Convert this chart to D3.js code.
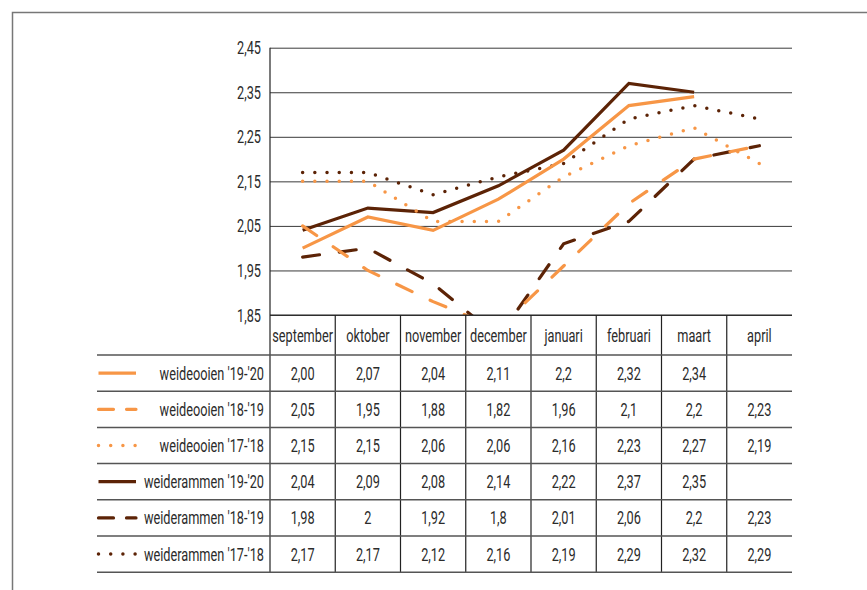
<!DOCTYPE html>
<html>
<head>
<meta charset="utf-8">
<script src="https://cdn.jsdelivr.net/npm/d3@7/dist/d3.min.js"></script>
<style>
  body { margin: 0; background: #fff; }
  text { font-family: Roboto, "DejaVu Sans", sans-serif; fill: #2b2b2b; }
</style>
</head>
<body>
<script>
const width = 867;
const height = 590;

// months (table header)
const months = ["september", "oktober", "november", "december", "januari", "februari", "maart", "april"];

// series values as printed in the data table ("" = no value)
const ooien1920 = ["2,00", "2,07", "2,04", "2,11", "2,2", "2,32", "2,34", ""];
const ooien1819 = ["2,05", "1,95", "1,88", "1,82", "1,96", "2,1", "2,2", "2,23"];
const ooien1718 = ["2,15", "2,15", "2,06", "2,06", "2,16", "2,23", "2,27", "2,19"];
const rammen1920 = ["2,04", "2,09", "2,08", "2,14", "2,22", "2,37", "2,35", ""];
const rammen1819 = ["1,98", "2", "1,92", "1,8", "2,01", "2,06", "2,2", "2,23"];
const rammen1718 = ["2,17", "2,17", "2,12", "2,16", "2,19", "2,29", "2,32", "2,29"];

const seriesNames = ["weideooien '19-'20", "weideooien '18-'19", "weideooien '17-'18",
                     "weiderammen '19-'20", "weiderammen '18-'19", "weiderammen '17-'18"];

const yTicks = [1.85, 1.95, 2.05, 2.15, 2.25, 2.35, 2.45];

const orange = "#f79646";
const brown = "#5c2306";

const series = [
  { name: seriesNames[0], vals: ooien1920, color: orange, dash: null },
  { name: seriesNames[1], vals: ooien1819, color: orange, dash: "long" },
  { name: seriesNames[2], vals: ooien1718, color: orange, dash: "dot" },
  { name: seriesNames[3], vals: rammen1920, color: brown, dash: null },
  { name: seriesNames[4], vals: rammen1819, color: brown, dash: "long" },
  { name: seriesNames[5], vals: rammen1718, color: brown, dash: "dot" }
];

const SX = 0.67; // horizontal squeeze to mimic the condensed font
const FS = 19;

function styleLine(sel, s, legend) {
  sel.attr("fill", "none")
     .attr("stroke", s.color)
     .attr("stroke-width", s.dash === "dot" ? 3.5 : 3.2);
  if (s.dash === "long") {
    sel.attr("stroke-dasharray", legend ? "15,13" : "17,20").attr("stroke-linecap", "round");
  } else if (s.dash === "dot") {
    sel.attr("stroke-dasharray", "0,12.2").attr("stroke-linecap", "round");
  }
}

function label(g, x, y, txt, anchor) {
  return g.append("text")
      .attr("transform", `translate(${x},${y}) scale(${SX},1)`)
      .attr("text-anchor", anchor)
      .attr("font-size", FS)
      .text(txt);
}

const parseVal = s => s === "" ? null : +s.replace(",", ".");

const plotLeft = 270, plotRight = 792, plotTop = 47.7, plotBottom = 315;
const headerBottom = 355;
const rowH = 36.2;
const legendLeft = 97;

const svg = d3.select("body")
    .append("svg")
    .attr("width", width)
    .attr("height", height);

// outer frame
svg.append("path")
    .attr("d", `M12.5,${height + 2}V12.5H${width + 2}`)
    .attr("fill", "none")
    .attr("stroke", "#777")
    .attr("stroke-width", 1.5);

const xScale = d3.scaleBand()
    .domain(months)
    .range([plotLeft, plotRight]);

const yScale = d3.scaleLinear()
    .domain([1.85, 2.45])
    .range([plotBottom, plotTop]);

// gridlines
const yAxis = d3.axisLeft(yScale)
    .tickValues(yTicks)
    .tickSize(-(plotRight - plotLeft))
    .tickFormat("");

const gy = svg.append("g")
    .attr("transform", `translate(${plotLeft},0)`)
    .call(yAxis);
gy.select(".domain").remove();
gy.selectAll(".tick line").attr("stroke", "#3a3a3a").attr("stroke-width", 1);

// y labels
yTicks.forEach(t => {
  label(svg, plotLeft - 9, yScale(t) + 6.5, d3.format(".2f")(t).replace(".", ","), "end");
});

const tableBottom = headerBottom + rowH * 6;

// y axis line
svg.append("line")
    .attr("x1", plotLeft).attr("x2", plotLeft)
    .attr("y1", plotTop).attr("y2", tableBottom)
    .attr("stroke", "#222").attr("stroke-width", 1.2);

// clip for lines
svg.append("clipPath").attr("id", "plotclip")
  .append("rect")
    .attr("x", plotLeft).attr("y", plotTop - 10)
    .attr("width", plotRight - plotLeft).attr("height", plotBottom - plotTop + 10);

const line = d3.line()
    .defined(d => d.v !== null)
    .x(d => xScale(d.m) + xScale.bandwidth() / 2)
    .y(d => yScale(d.v));

const plot = svg.append("g").attr("clip-path", "url(#plotclip)");
[5, 4, 3, 2, 1, 0].forEach(i => {
  const s = series[i];
  const pts = months.map((m, j) => ({ m, v: parseVal(s.vals[j]) }));
  plot.append("path")
      .datum(pts)
      .attr("d", line)
      .call(styleLine, s, false);
});

// data table: vertical separators
months.forEach((m, j) => {
  if (j === 0) return;
  svg.append("line")
      .attr("x1", xScale(m)).attr("x2", xScale(m))
      .attr("y1", plotBottom).attr("y2", tableBottom)
      .attr("stroke", "#222").attr("stroke-width", 1.2);
});

// horizontal rules
svg.append("line")
    .attr("x1", plotLeft).attr("x2", plotRight)
    .attr("y1", plotBottom).attr("y2", plotBottom)
    .attr("stroke", "#222").attr("stroke-width", 1.2);
d3.range(7).forEach(r => {
  const y = headerBottom + r * rowH;
  svg.append("line")
      .attr("x1", legendLeft).attr("x2", plotRight)
      .attr("y1", y).attr("y2", y)
      .attr("stroke", "#555").attr("stroke-width", 1.5);
});

// month header
months.forEach(m => {
  label(svg, xScale(m) + xScale.bandwidth() / 2, (plotBottom + headerBottom) / 2 + 6.5, m, "middle");
});

// rows
series.forEach((s, i) => {
  const cy = headerBottom + rowH * i + rowH / 2;
  svg.append("line")
      .attr("x1", legendLeft + 1.5).attr("x2", 136)
      .attr("y1", cy).attr("y2", cy)
      .call(styleLine, s, true);
  label(svg, 264, cy + 6.5, s.name, "end");
  months.forEach((m, j) => {
    if (s.vals[j] === "") return;
    label(svg, xScale(m) + xScale.bandwidth() / 2, cy + 6.5, s.vals[j], "middle");
  });
});
</script>
</body>
</html>
